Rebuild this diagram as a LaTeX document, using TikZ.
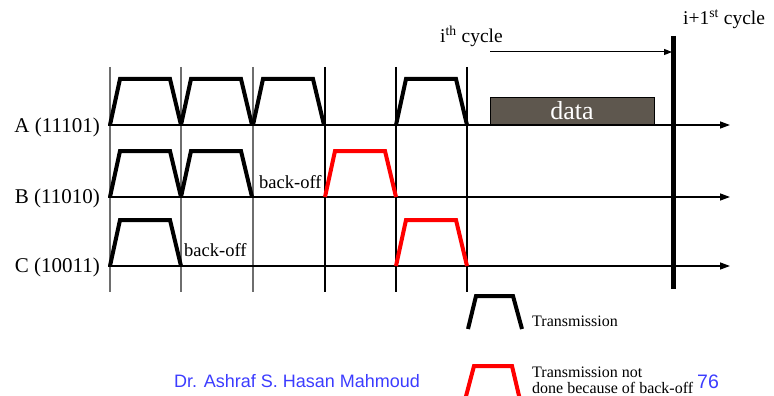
\documentclass[tikz,border=0pt]{standalone}
\usepackage{fontspec}
\setmainfont{Liberation Serif}
\newfontfamily\arialf{Liberation Sans}
\usetikzlibrary{arrows.meta}
\definecolor{footblue}{RGB}{60,60,255}
\definecolor{databox}{RGB}{94,87,78}
\definecolor{gridgray}{RGB}{110,110,110}
\begin{document}
\begin{tikzpicture}[x=1pt,y=-1pt,
  pulseline/.style={line width=4pt},
  axisline/.style={line width=1.3pt,-{Triangle[length=10pt,width=7pt]}},
  gridline/.style={line width=1.2pt},
  lbl/.style={font=\fontsize{21}{25}\selectfont, inner sep=0pt},
  mid/.style={font=\fontsize{19.5}{23}\selectfont, inner sep=0pt},
  bo/.style={font=\fontsize{18.5}{22}\selectfont, inner sep=0pt},
  legtext/.style={font=\fontsize{16}{19}\selectfont, inner sep=0pt},
  foot/.style={font=\arialf\fontsize{18}{21}\selectfont, text=footblue, inner sep=0pt},
  pulse/.pic={\draw[pulseline,pic actions] (0,0) -- (10,-46) -- (60,-46) -- (71,0);}
]
\useasboundingbox (0,0) rectangle (774,396);

% grid lines
\foreach \x/\c in {110/gridgray,181/gridgray,253/gridgray,325/black,396/black,467/black}{
  \draw[gridline,\c] (\x,67) -- (\x,292);
}

% axes
\coordinate (a0) at (108,125); \coordinate (a1) at (730,125);
\coordinate (b0) at (108,197); \coordinate (b1) at (730,197);
\coordinate (c0) at (108,266); \coordinate (c1) at (730,266);
\draw[axisline] (a0) -- (a1);
\draw[axisline] (b0) -- (b1);
\draw[axisline] (c0) -- (c1);

% row labels
\node[lbl, anchor=east] (labA) at (100,127) {A (11101)};
\node[lbl, anchor=east] (labB) at (100,198) {B (11010)};
\node[lbl, anchor=east] (labC) at (100,267) {C (10011)};

% pulses A
\pic at (110,125) {pulse};
\pic at (181,125) {pulse};
\pic at (253,125) {pulse};
\pic at (396,125) {pulse};
% pulses B
\pic at (110,197) {pulse};
\pic at (181,197) {pulse};
\pic[red] at (325,197) {pulse};
% pulses C
\pic at (110,266) {pulse};
\pic[red] at (396,266) {pulse};

% back-off labels
\node[bo, anchor=base west] (boB) at (259,188) {back-off};
\node[bo, anchor=base west] (boC) at (184,256) {back-off};

% data box
\node[draw=black, line width=0.6pt, fill=databox, minimum width=164pt, minimum height=27pt, inner sep=0pt, anchor=south west] (data) at (490,125) {};
\node[font=\fontsize{26}{30}\selectfont, text=white, inner sep=0pt, anchor=base] (datatxt) at (572,119) {data};

% cycle markers
\node[mid, anchor=base west] (ith) at (440,43) {i\textsuperscript{th} cycle};
\node[mid, anchor=base west] (i1st) at (683,25) {i+1\textsuperscript{st} cycle};
\coordinate (cyc0) at (490,52);
\coordinate (cyc1) at (672,52);
\draw[line width=1pt,-{Triangle[length=8pt,width=6pt]}] (cyc0) -- (cyc1);
\coordinate (bar0) at (673,36);
\coordinate (bar1) at (673,289);
\draw[line width=5pt] (bar0) -- (bar1);

% legend
\draw[pulseline] (468,329) -- (476,296) -- (513,296) -- (522,329);
\node[legtext, anchor=base west] (legT) at (532,326) {Transmission};
\draw[pulseline,red] (465,400) -- (474,366) -- (512,366) -- (520,400);
\node[legtext, anchor=base west] (legN1) at (532,377) {Transmission not};
\node[legtext, anchor=base west] (legN2) at (532,393) {done because of back-off};

% footer
\node[foot, anchor=base west] (author) at (174,387) {Dr. Ashraf S. Hasan Mahmoud};
\node[foot, font=\arialf\fontsize{19.5}{22}\selectfont, anchor=base west] (page) at (697,388) {76};
\end{tikzpicture}
\end{document}
